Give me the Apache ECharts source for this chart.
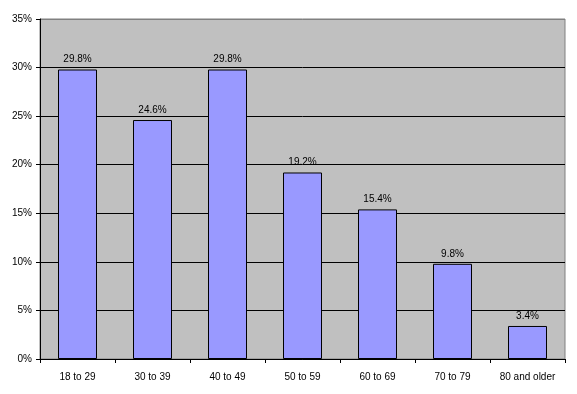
<!DOCTYPE html>
<html><head><meta charset="utf-8">
<script src="https://cdn.jsdelivr.net/npm/echarts@6/dist/echarts.min.js"></script>
<style>html,body{margin:0;padding:0;background:#fff}#c{width:577px;height:394px}</style>
</head><body><div id="c"></div>
<script>
const categories = ['18 to 29','30 to 39','40 to 49','50 to 59','60 to 69','70 to 79','80 and older'];
const values = [29.8, 24.6, 29.8, 19.2, 15.4, 9.8, 3.4];
const yTicks = [0, 5, 10, 15, 20, 25, 30, 35];

const chart = echarts.init(document.getElementById('c'), null, {renderer:'canvas'});
chart.setOption({
  animation:false,
  grid:{left:40, right:12, top:19, bottom:35, show:true, backgroundColor:'#C0C0C0', borderColor:'#808080', borderWidth:1},
  xAxis:{type:'category', data:categories,
    axisLine:{show:true, lineStyle:{color:'#000', width:1}},
    axisTick:{show:true, alignWithLabel:false, length:4, lineStyle:{color:'#000'}},
    axisLabel:{color:'#000', fontFamily:'Liberation Sans, Arial', fontSize:10, margin:13}},
  yAxis:{type:'value', min:yTicks[0], max:yTicks[yTicks.length-1], interval:5,
    axisLine:{show:true, lineStyle:{color:'#000', width:1}},
    axisTick:{show:true, length:4, lineStyle:{color:'#000'}},
    axisLabel:{color:'#000', fontFamily:'Liberation Sans, Arial', fontSize:10, margin:8, formatter: v => v + '%'},
    splitLine:{show:true, lineStyle:{color:['#000','#000','#000','#000','#000','#000','#000','#808080'], width:1}}},
  series:[{type:'bar', data:values, barWidth:39,
    itemStyle:{color:'#9999FF', borderColor:'#000', borderWidth:1},
    label:{show:true, position:'top', distance:5, color:'#000', fontFamily:'Liberation Sans, Arial', fontSize:10, formatter: p => p.value.toFixed(1) + '%'}}]
});
</script></body></html>
